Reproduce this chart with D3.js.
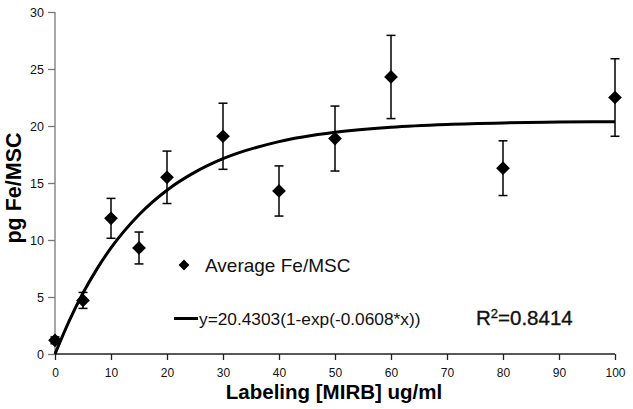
<!DOCTYPE html>
<html><head><meta charset="utf-8">
<script src="https://cdn.jsdelivr.net/npm/d3@7"></script>
<style>body{margin:0;background:#fff}svg{display:block}text{font-family:Arial,"Liberation Sans",sans-serif}</style>
</head><body>
<svg id="c" width="633" height="409"></svg>
<script>
const concentrations = [0, 5, 10, 15, 20, 30, 40, 50, 60, 80, 100];
const meanFe = [1.2, 4.7, 11.9, 9.3, 15.5, 19.1, 14.3, 18.9, 24.3, 16.3, 22.5];
const errFe = [0.3, 0.7, 1.75, 1.4, 2.3, 2.9, 2.2, 2.85, 3.65, 2.4, 3.4];
const fitX = [0, 2.5, 5, 7.5, 10, 15, 20, 25, 30, 40, 50, 60, 70, 80, 90, 100];
const fitY = [0, 2.87, 5.35, 7.47, 9.31, 12.22, 14.37, 15.95, 17.13, 18.63, 19.45, 19.9, 20.14, 20.27, 20.34, 20.38];
const xTicks = [0, 10, 20, 30, 40, 50, 60, 70, 80, 90, 100];
const yTicks = [0, 5, 10, 15, 20, 25, 30];

const svg = d3.select("#c");
const x = d3.scaleLinear().domain([0, 100]).range([55, 615]);
const y = d3.scaleLinear().domain([0, 30]).range([354, 12]);

// y axis
const ya = svg.append("g").attr("transform", "translate(55,0)")
  .call(d3.axisLeft(y).tickValues(yTicks).tickSize(7).tickPadding(4));
ya.selectAll("path,line").attr("stroke", "#777").attr("stroke-width", 1.3);
ya.select(".domain").attr("d", "M0,12V354");
ya.selectAll("text").attr("font-size", 12.5).attr("fill", "#111").attr("font-family", "Arial");

// x axis
const xa = svg.append("g").attr("transform", "translate(0,354)")
  .call(d3.axisBottom(x).tickValues(xTicks).tickSize(6).tickPadding(8));
xa.selectAll("path,line").attr("stroke", "#222").attr("stroke-width", 1.3);
xa.select(".domain").attr("d", "M55,0H615");
xa.selectAll("text").attr("font-size", 12).attr("fill", "#111").attr("font-family", "Arial");

// fit curve
const line = d3.line().x(d => x(d[0])).y(d => y(d[1])).curve(d3.curveMonotoneX);
svg.append("path").datum(fitX.map((v, i) => [v, fitY[i]]))
  .attr("d", line).attr("fill", "none").attr("stroke", "#000").attr("stroke-width", 3);

// error bars
const pts = concentrations.map((c, i) => ({c, m: meanFe[i], e: errFe[i]}));
const eb = svg.append("g").attr("stroke", "#000").attr("stroke-width", 1.5);
pts.forEach(p => {
  eb.append("line").attr("x1", x(p.c)).attr("x2", x(p.c)).attr("y1", y(p.m - p.e)).attr("y2", y(p.m + p.e));
  [p.m - p.e, p.m + p.e].forEach(v => eb.append("line")
    .attr("x1", x(p.c) - 4.5).attr("x2", x(p.c) + 4.5).attr("y1", y(v)).attr("y2", y(v)));
});

// markers
const diamond = d3.symbol().type(d3.symbolDiamond2).size(120);
svg.append("g").selectAll("path").data(pts).join("path")
  .attr("d", diamond).attr("transform", d => `translate(${x(d.c)},${y(d.m)})`).attr("fill", "#000");

// legend
svg.append("path").attr("d", d3.symbol().type(d3.symbolDiamond2).size(75)).attr("transform", "translate(184,265)").attr("fill", "#000");
svg.append("text").attr("x", 205).attr("y", 272).attr("font-size", 19).attr("fill", "#111").text("Average Fe/MSC");
svg.append("line").attr("x1", 174).attr("x2", 198).attr("y1", 318.5).attr("y2", 318.5).attr("stroke", "#000").attr("stroke-width", 3);
svg.append("text").attr("x", 199).attr("y", 325).attr("font-size", 17.3).attr("fill", "#111").text("y=20.4303(1-exp(-0.0608*x))");
const r2 = svg.append("text").attr("x", 476).attr("y", 325).attr("font-size", 20.5).attr("fill", "#111")
  .attr("stroke", "#111").attr("stroke-width", 0.35);
r2.append("tspan").text("R");
r2.append("tspan").attr("font-size", 13).attr("dy", -7).text("2");
r2.append("tspan").attr("dy", 7).text("=0.8414");

// axis titles
svg.append("text").attr("x", 334).attr("y", 398.5).attr("text-anchor", "middle")
  .attr("font-size", 20.5).attr("font-weight", "bold").attr("fill", "#000").text("Labeling [MIRB] ug/ml");
svg.append("text").attr("transform", "translate(21,188) rotate(-90)").attr("text-anchor", "middle")
  .attr("font-size", 21.5).attr("font-weight", "bold").attr("fill", "#000").text("pg Fe/MSC");
</script>
</body></html>
